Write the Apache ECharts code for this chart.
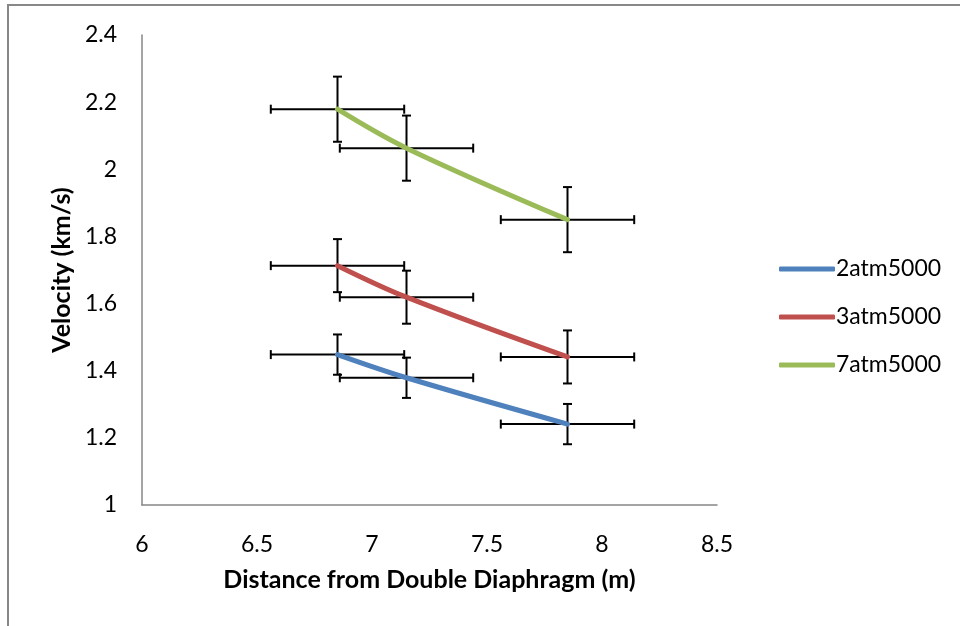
<!DOCTYPE html>
<html>
<head>
<meta charset="utf-8">
<script src="https://cdn.jsdelivr.net/npm/echarts@6/dist/echarts.min.js"></script>
<style>html,body{margin:0;padding:0;background:#fff;}#c{width:960px;height:626px;}</style>
</head>
<body>
<div id="c"></div>
<script>
var distances = [6.85, 7.15, 7.85];
var seriesNames = ['2atm5000', '3atm5000', '7atm5000'];
var v2atm = [1.448, 1.379, 1.241];
var v3atm = [1.713, 1.619, 1.441];
var v7atm = [2.179, 2.063, 1.850];
var xErr = 0.29;
var yErr2atm = 0.06;
var yErr3atm = 0.079;
var yErr7atm = 0.097;
var xTicks = [6, 6.5, 7, 7.5, 8, 8.5];
var yTicks = [1, 1.2, 1.4, 1.6, 1.8, 2, 2.2, 2.4];

var colors = ['#4F81BD', '#C0504D', '#9BBB59'];
var values = [v2atm, v3atm, v7atm];
var yErrs = [yErr2atm, yErr3atm, yErr7atm];
var FONT = 'Lato';

function errData(vals, ye) {
  return distances.map(function (x, i) { return [x, vals[i], xErr, ye]; });
}

function renderErr(params, api) {
  var x = api.value(0), y = api.value(1), dx = api.value(2), dy = api.value(3);
  var l = api.coord([x - dx, y]);
  var r = api.coord([x + dx, y]);
  var t = api.coord([x, y + dy]);
  var b = api.coord([x, y - dy]);
  var cap = 4.5;
  var st = { stroke: '#000', lineWidth: 2 };
  return {
    type: 'group',
    children: [
      { type: 'line', shape: { x1: l[0], y1: l[1], x2: r[0], y2: r[1] }, style: st },
      { type: 'line', shape: { x1: l[0], y1: l[1] - cap, x2: l[0], y2: l[1] + cap }, style: st },
      { type: 'line', shape: { x1: r[0], y1: r[1] - cap, x2: r[0], y2: r[1] + cap }, style: st },
      { type: 'line', shape: { x1: t[0], y1: t[1], x2: b[0], y2: b[1] }, style: st },
      { type: 'line', shape: { x1: t[0] - cap, y1: t[1], x2: t[0] + cap, y2: t[1] }, style: st },
      { type: 'line', shape: { x1: b[0] - cap, y1: b[1], x2: b[0] + cap, y2: b[1] }, style: st }
    ]
  };
}

var series = [];
seriesNames.forEach(function (n, k) {
  series.push({
    type: 'custom', name: n + '_err', renderItem: renderErr,
    data: errData(values[k], yErrs[k]), z: 2, silent: true
  });
});
seriesNames.forEach(function (n, k) {
  series.push({
    type: 'line', name: n,
    data: distances.map(function (x, i) { return [x, values[k][i]]; }),
    smooth: 0.35, showSymbol: false, symbol: 'none',
    lineStyle: { color: colors[k], width: 5, cap: 'round' },
    itemStyle: { color: colors[k] }, z: 3
  });
});

var chart = echarts.init(document.getElementById('c'), null, { renderer: 'canvas' });
chart.setOption({
  animation: false,
  backgroundColor: '#fff',
  color: colors,
  graphic: [{
    type: 'rect', shape: { x: 8, y: 5, width: 1000, height: 700 },
    style: { fill: 'none', stroke: '#888', lineWidth: 2 }, silent: true
  }],
  grid: { left: 142, right: 243, top: 35, bottom: 121, containLabel: false },
  legend: {
    orient: 'vertical', left: 774, top: 252, itemGap: 24,
    itemWidth: 56, itemHeight: 5, icon: 'roundRect',
    data: seriesNames,
    textStyle: { fontFamily: FONT, fontSize: 23, lineHeight: 24, color: '#000', padding: [0, 0, 0, -4] }
  },
  xAxis: {
    type: 'value', min: 6, max: 8.5, interval: 0.5,
    axisLine: { show: true, lineStyle: { color: '#868686', width: 1.5 } },
    axisTick: { show: false }, splitLine: { show: false },
    axisLabel: { fontFamily: FONT, fontSize: 23, color: '#000', margin: 28,
      formatter: function (v) { return xTicks.indexOf(v) >= 0 ? String(v) : ''; } },
    name: 'Distance from Double Diaphragm (m)', nameLocation: 'middle', nameGap: 62,
    nameTextStyle: { fontFamily: FONT, fontSize: 25, fontWeight: 'bold', color: '#000' }
  },
  yAxis: {
    type: 'value', min: 1, max: 2.4, interval: 0.2,
    axisLine: { show: true, lineStyle: { color: '#868686', width: 1.5 } },
    axisTick: { show: false }, splitLine: { show: false },
    axisLabel: { fontFamily: FONT, fontSize: 23, color: '#000', margin: 25,
      formatter: function (v) {
        var r = Math.round(v * 10) / 10;
        return yTicks.indexOf(r) >= 0 ? String(r) : '';
      } },
    name: 'Velocity (km/s)', nameLocation: 'middle', nameGap: 68, nameRotate: 90,
    nameMoveOverlap: false,
    nameTextStyle: { fontFamily: FONT, fontSize: 25, fontWeight: 'bold', color: '#000' }
  },
  series: series
});
</script>
</body>
</html>
